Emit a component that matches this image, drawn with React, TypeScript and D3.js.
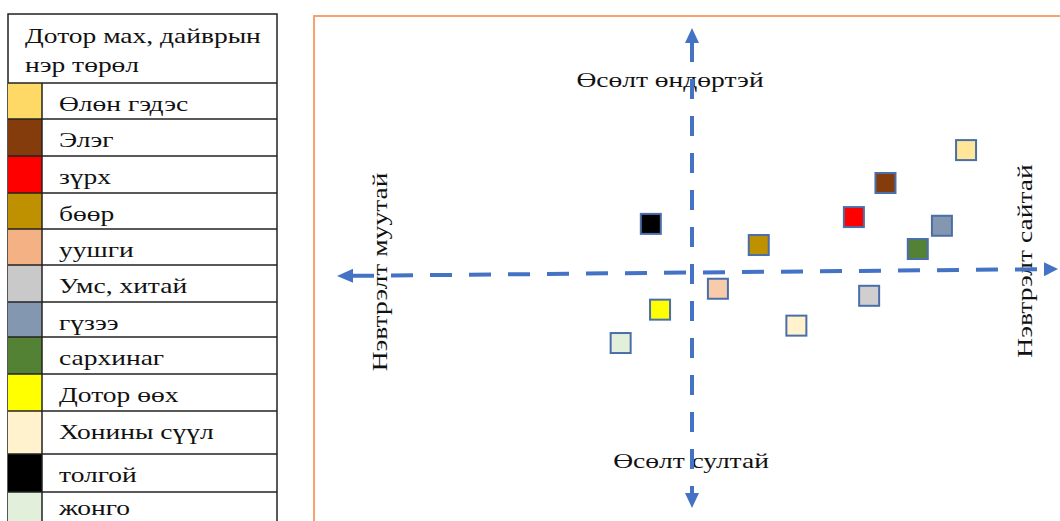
import React from "react";
import * as d3 from "d3";

// Categories (legend order)
const categories = [
  "Өлөн гэдэс",
  "Элэг",
  "зүрх",
  "бөөр",
  "уушги",
  "Умс, хитай",
  "гүзээ",
  "сархинаг",
  "Дотор өөх",
  "Хонины сүүл",
  "толгой",
  "жонго",
];
const legendColors = [
  "#FFD966",
  "#843C0C",
  "#FF0000",
  "#BF9000",
  "#F4B183",
  "#C9C9C9",
  "#8497B0",
  "#548235",
  "#FFFF00",
  "#FFF2CC",
  "#000000",
  "#E2EFDA",
];
const markerColors = [
  "#FFE699",
  "#843C0C",
  "#FF0000",
  "#BF9000",
  "#F8CBAD",
  "#D0CECE",
  "#8497B0",
  "#548235",
  "#FFFF00",
  "#FFF2CC",
  "#000000",
  "#E2EFDA",
];
// Penetration (x) and growth (y), relative units, origin at axes cross
const penetration = [7.72, 5.45, 4.56, 1.88, 0.73, 4.99, 7.04, 6.36, -0.9, 2.94, -1.16, -2.01];
const growth = [5.23, 3.83, 2.38, 1.19, -0.67, -0.97, 2.01, 1.02, -1.56, -2.24, 2.09, -2.98];

const legendTitle = ["Дотор мах, дайврын", "нэр төрөл"];
const axisLabels = {
  top: "Өсөлт өндөртэй",
  bottom: "Өсөлт султай",
  left: "Нэвтрэлт муутай",
  right: "Нэвтрэлт сайтай",
};

const W = 1060;
const H = 521;
const FONT = "'Liberation Serif', 'Times New Roman', serif";
const BLUE = "#4472C4";
const SX = 1.25;

function T({ x, y, rot = 0, anchor = "start", children }: any) {
  return (
    <text
      transform={`translate(${x},${y}) rotate(${rot}) scale(${SX},1)`}
      textAnchor={anchor}
    >
      {children}
    </text>
  );
}

export default function App() {
  const x = d3.scaleLinear().domain([-10, 10]).range([337, 1047]);
  const y = d3.scaleLinear().domain([-10, 10]).range([508, 38]);
  // slight tilt of horizontal axis as in the source
  const hTilt = (px: number) => 276 - ((px - 337) * 7) / 721;

  const rowEdges = [83, 119, 156, 193, 229, 265, 302, 337, 374, 411, 454, 492, 530];
  const lx0 = 8, lx1 = 277, sw = 42, ly0 = 14;

  const sq = 20;
  const ax = x(0);

  return (
    <svg width={W} height={H} style={{ position: "absolute", left: 0, top: 0, background: "#fff" }}>
      {/* Legend table */}
      <g fontFamily={FONT} fontSize={22} fill="#111">
        <rect x={lx0} y={ly0} width={lx1 - lx0} height={H + 20} fill="#fff" stroke="#222" strokeWidth={1.5} />
        <T x={25} y={43}>{legendTitle[0]}</T>
        <T x={25} y={72}>{legendTitle[1]}</T>
        {categories.map((c, i) => (
          <g key={c}>
            <rect x={lx0} y={rowEdges[i]} width={sw - lx0} height={rowEdges[i + 1] - rowEdges[i]} fill={legendColors[i]} />
            <line x1={lx0} x2={lx1} y1={rowEdges[i]} y2={rowEdges[i]} stroke="#222" strokeWidth={1.5} />
            <T x={59} y={Math.min(rowEdges[i] + 28, 515)}>{c}</T>
          </g>
        ))}
        <line x1={sw} x2={sw} y1={rowEdges[0]} y2={H} stroke="#222" strokeWidth={1.5} />
      </g>

      {/* Chart frame */}
      <rect x={314} y={16} width={W} height={H} fill="none" stroke="#F7A26A" strokeWidth={2} />

      {/* Axis labels */}
      <g fontFamily={FONT} fontSize={22} fill="#111">
        <T x={670} y={87} anchor="middle">{axisLabels.top}</T>
        <T x={691} y={468} anchor="middle">{axisLabels.bottom}</T>
        <T x={387} y={272} rot={-90} anchor="middle">{axisLabels.left}</T>
        <T x={1032} y={261} rot={-90} anchor="middle">{axisLabels.right}</T>
      </g>

      {/* Axes */}
      <g stroke={BLUE} strokeWidth={4} fill="none">
        <line x1={352} y1={hTilt(352)} x2={1044} y2={hTilt(1044)} strokeDasharray="22 17" />
        <line x1={ax} y1={42} x2={ax} y2={494} strokeDasharray="20 17" />
      </g>
      <g fill={BLUE}>
        <polygon points={`337,${hTilt(337)} 353,${hTilt(353) - 7} 353,${hTilt(353) + 7}`} />
        <polygon points={`1058,${hTilt(1058)} 1044,${hTilt(1044) - 7} 1044,${hTilt(1044) + 7}`} />
        <polygon points={`${ax},28 ${ax - 7},43 ${ax + 7},43`} />
        <polygon points={`${ax},508 ${ax - 7},493 ${ax + 7},493`} />
      </g>

      {/* Points */}
      <g>
        {categories.map((c, i) => (
          <rect
            key={c}
            x={x(penetration[i]) - sq / 2}
            y={y(growth[i]) - sq / 2}
            width={sq}
            height={sq}
            fill={markerColors[i]}
            stroke="#4A6FA8"
            strokeWidth={2}
          />
        ))}
      </g>
    </svg>
  );
}
